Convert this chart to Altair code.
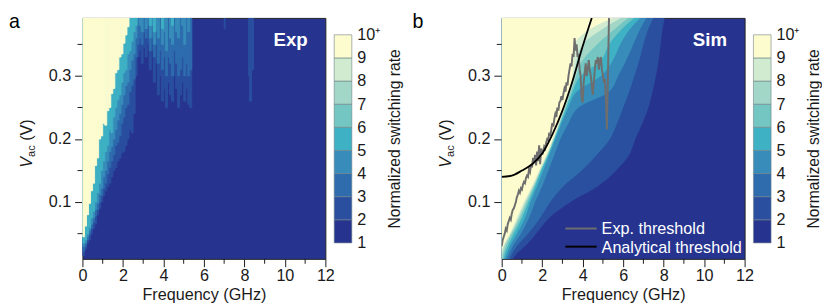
import altair as alt
import pandas as pd

# ---------------- colour bins (1-2, 2-3, ..., 9-10+) ----------------
bin_colors = ['#263490', '#2a4f9f', '#2e6cad', '#378cba', '#3fb1c4',
              '#74c6c2', '#a2d7c8', '#d0ebd0', '#fdfccf']
bin_lo = [1, 2, 3, 4, 5, 6, 7, 8, 9]
bin_hi = [2, 3, 4, 5, 6, 7, 8, 9, 10]
cbar_ticks = [1, 2, 3, 4, 5, 6, 7, 8, 9, 10]

x_major = [0, 2, 4, 6, 8, 10, 12]
x_minor = [1, 3, 5, 7, 9, 11]
y_major = [0.1, 0.2, 0.3]
y_minor = [0.05, 0.15, 0.25, 0.35]

# ---------------- (a) experiment: per-frequency-column onset voltages ----------------
exp_f0 = [round(0.1 * i, 1) for i in range(54)]   # column left edges (GHz), width 0.1
exp_v2 = [0.015, 0.025, 0.035, 0.04, 0.05, 0.058, 0.065, 0.08, 0.09, 0.1, 0.11, 0.118, 0.125,
          0.13, 0.14, 0.15, 0.155, 0.165, 0.17, 0.178, 0.18, 0.19, 0.2, 0.215, 0.21, 0.24,
          0.30, 0.33, 0.34, 0.32, 0.345, 0.33, 0.35, 0.31, 0.34, 0.29, 0.32, 0.27, 0.30, 0.26,
          0.28, 0.25, 0.29, 0.27, 0.26, 0.30, 0.28, 0.25, 0.27, 0.29, 0.26, 0.28, 0.255, 0.25]
exp_v3 = [0.022, 0.03, 0.04, 0.048, 0.058, 0.068, 0.078, 0.088, 0.1, 0.11, 0.122, 0.13, 0.145,
          0.155, 0.165, 0.175, 0.19, 0.195, 0.205, 0.225, 0.235, 0.25, 0.255, 0.275, 0.285, 0.295,
          0.33, 0.35, 0.36, 0.35, 0.37, 0.36, 0.38, 0.34, 0.36, 0.33, 0.35, 0.32, 0.34, 0.31,
          0.33, 0.30, 0.33, 0.32, 0.30, 0.34, 0.32, 0.30, 0.31, 0.33, 0.30, 0.32, 0.30, 0.31]
exp_v4 = [0.03, 0.035, 0.045, 0.055, 0.065, 0.075, 0.088, 0.098, 0.112, 0.122, 0.14, 0.15, 0.165,
          0.18, 0.188, 0.2, 0.215, 0.23, 0.24, 0.255, 0.27, 0.285, 0.29, 0.31, 0.325, 0.335,
          0.36, None, 0.38, 0.37, None, 0.375, None, 0.36, 0.38, 0.35, 0.37, 0.36, None, 0.35,
          0.37, 0.34, None, 0.36, 0.35, None, 0.37, 0.36, None, 0.38, 0.35, None, 0.37, None]
exp_v5 = [0.035, 0.04, 0.05, 0.06, 0.075, 0.085, 0.1, 0.115, 0.13, 0.15, 0.165, 0.18, 0.19,
          0.215, 0.21, 0.235, 0.25, 0.262, 0.27, 0.29, 0.305, 0.31, 0.335, 0.34, 0.355, 0.37,
          0.38, None, None, None, None, None, None, 0.38, None, 0.37, None, None, None, 0.375,
          None, None, None, None, 0.38, None, None, None, None, None, None, None, None, None]
exp_v9 = [0.045, 0.062, 0.08, 0.098, 0.118, 0.13, 0.158, 0.17, 0.2, 0.205, 0.225, 0.222, 0.245,
          0.25, 0.272, 0.28, 0.305, 0.31, 0.33, 0.335, 0.352, 0.365, 0.378]
extra_f0 = [7.0, 8.2, 8.25, 8.35]
extra_f1 = [7.05, 8.25, 8.35, 8.45]
extra_v2 = [0.375, 0.30, 0.26, 0.31]

# ---------------- (b) simulation: contour boundaries f_k(V) ----------------
sim_V = [0.01, 0.02, 0.03, 0.05, 0.075, 0.1, 0.125, 0.15, 0.175, 0.2, 0.225, 0.25,
         0.275, 0.3, 0.325, 0.35, 0.375, 0.392]
sim_f2 = [0.55, 0.8, 1.15, 1.7, 2.35, 3.4, 4.75, 5.65, 6.3, 6.6, 6.95, 7.25, 7.45, 7.62, 7.75, 7.85, 7.95, 8.05]
sim_f3 = [0.4, 0.55, 0.75, 1.3, 1.9, 2.4, 3.05, 3.95, 4.7, 5.35, 5.7, 6.0, 6.3, 6.55, 6.8, 7.0, 7.25, 7.5]
sim_f4 = [0.25, 0.4, 0.55, 0.95, 1.35, 1.65, 2.0, 2.3, 2.6, 2.9, 3.3, 3.8, 5.3, 5.75, 6.15, 6.5, 6.85, 7.15]
sim_f5 = [0.15, 0.28, 0.4, 0.75, 1.15, 1.42, 1.75, 2.05, 2.35, 2.65, 2.95, 3.3, 3.7, 4.9, 5.5, 5.85, 6.35, 6.85]
sim_f6 = [0.08, 0.18, 0.3, 0.6, 1.0, 1.32, 1.65, 1.95, 2.3, 2.6, 2.9, 3.2, 3.5, 3.9, 4.9, 5.3, 5.95, 6.55]
sim_f7 = [0.03, 0.1, 0.2, 0.5, 0.9, 1.24, 1.6, 1.92, 2.27, 2.58, 2.87, 3.15, 3.42, 3.68, 4.0, 4.7, 5.6, 6.25]
sim_f8 = [0.0, 0.03, 0.12, 0.45, 0.82, 1.17, 1.55, 1.9, 2.25, 2.56, 2.85, 3.1, 3.35, 3.58, 3.7, 4.0, 5.0, 5.9]
sim_f9 = [0.0, 0.0, 0.08, 0.4, 0.75, 1.1, 1.5, 1.85, 2.2, 2.52, 2.8, 3.05, 3.3, 3.5, 3.55, 3.62, 4.4, 5.5]

# thresholds
exp_thr_f = [round(0.05 * i, 2) for i in range(107)]
exp_thr_v = [0.03, 0.04, 0.045, 0.05, 0.058, 0.055, 0.065, 0.07, 0.075, 0.072,
             0.082, 0.088, 0.09, 0.095, 0.1, 0.108, 0.112, 0.118, 0.115, 0.122,
             0.12, 0.128, 0.132, 0.13, 0.138, 0.142, 0.14, 0.152, 0.148, 0.16,
             0.155, 0.17, 0.162, 0.175, 0.158, 0.18, 0.165, 0.19, 0.16, 0.185,
             0.175, 0.18, 0.188, 0.185, 0.195, 0.2, 0.198, 0.21, 0.205, 0.215,
             0.225, 0.22, 0.232, 0.24, 0.235, 0.25, 0.245, 0.258, 0.26, 0.268,
             0.262, 0.272, 0.28, 0.275, 0.29, 0.285, 0.3, 0.31, 0.32, 0.315,
             0.335, 0.33, 0.36, 0.34, 0.35, 0.33, 0.335, 0.31, 0.3, 0.265,
             0.258, 0.29, 0.305, 0.32, 0.3, 0.31, 0.325, 0.31, 0.3, 0.285,
             0.27, 0.29, 0.31, 0.325, 0.32, 0.33, 0.31, 0.325, 0.33, 0.31,
             0.3, 0.29, 0.295, 0.26, 0.215, 0.3, 0.392]
ana_f = [0.0, 0.5, 1.0, 1.5, 2.0, 2.5, 3.0, 3.5, 4.0, 4.45]
ana_v = [0.140, 0.142, 0.150, 0.160, 0.177, 0.207, 0.245, 0.292, 0.347, 0.392]

legend_labels = ['Exp. threshold', 'Analytical threshold']
legend_colors = ['#6e6e6e', '#000000']

# ---------------- layout constants ----------------
W, H = 248, 246
V_LO, V_HI = 0.01, 0.392
FONT = 'Liberation Sans'
INK = '#1a1a1a'
FS = 16.5

xs = alt.Scale(domain=[0, 12], nice=False, zero=False)
ys = alt.Scale(domain=[V_LO, V_HI], nice=False, zero=False)
one = pd.DataFrame({'k': [0]})

X_AXIS = alt.Axis(values=x_major, tickSize=8, tickColor=INK, labelFlush=False,
                  labelFontSize=FS, labelColor=INK, labelPadding=1,
                  title='Frequency (GHz)', titleFontSize=FS, titleFontWeight='normal',
                  titleColor=INK, titlePadding=3, domain=False, grid=False)
Y_AXIS = alt.Axis(values=y_major, format='.1f', tickSize=8, tickColor=INK,
                  labelFontSize=FS, labelColor=INK, labelPadding=4, title=None,
                  domain=False, grid=False)


def X(field):
    return alt.X(field, scale=xs, axis=X_AXIS)


def Y(field):
    return alt.Y(field, scale=ys, axis=Y_AXIS)


def frame_layers(panel_letter, tag):
    xmin = alt.Chart(pd.DataFrame({'f': x_minor})).mark_rule(color=INK, strokeWidth=1).encode(
        x=X('f:Q'), y=alt.value(H), y2=alt.value(H + 5))
    ymin = alt.Chart(pd.DataFrame({'v': y_minor})).mark_rule(color=INK, strokeWidth=1).encode(
        y=Y('v:Q'), x=alt.value(-5), x2=alt.value(0))
    t_v = alt.Chart(one).mark_text(angle=270, align='left', baseline='alphabetic', fontSize=FS,
                                   fontStyle='italic', color=INK).encode(
        x=alt.value(-52), y=alt.value(153), text=alt.value('V'))
    t_ac = alt.Chart(one).mark_text(angle=270, align='left', baseline='alphabetic', fontSize=11.5,
                                    color=INK).encode(
        x=alt.value(-48.5), y=alt.value(142), text=alt.value('ac'))
    t_unit = alt.Chart(one).mark_text(angle=270, align='left', baseline='alphabetic', fontSize=FS,
                                      color=INK).encode(
        x=alt.value(-52), y=alt.value(125.5), text=alt.value('(V)'))
    t_letter = alt.Chart(one).mark_text(align='left', baseline='alphabetic', fontSize=20,
                                        color='#000').encode(
        x=alt.value(-75 if panel_letter == 'a' else -91), y=alt.value(10),
        text=alt.value(panel_letter))
    t_tag = alt.Chart(one).mark_text(align='right', baseline='alphabetic', fontSize=19,
                                     fontWeight='bold', color='white').encode(
        x=alt.value(W - 18), y=alt.value(29), text=alt.value(tag))
    return [xmin, ymin, t_v, t_ac, t_unit, t_letter, t_tag]


def colorbar():
    cb = pd.DataFrame({'lo': bin_lo, 'hi': bin_hi, 'c': bin_colors})
    return alt.Chart(cb).mark_rect(stroke='#6f8088', strokeWidth=0.6).encode(
        x=alt.value(W + 9), x2=alt.value(W + 27),
        y=alt.Y('lo:Q', scale=alt.Scale(domain=[0.31, 10.73], nice=False, zero=False),
                axis=alt.Axis(orient='right', offset=27, values=cbar_ticks,
                              labelExpr="datum.value == 10 ? '10\u207a' : datum.label",
                              ticks=False, tickSize=0, domain=False, grid=False,
                              labelPadding=5, labelFontSize=FS, labelColor=INK,
                              title='Normalized switching rate', titleFontSize=16,
                              titleFontWeight='normal', titleColor=INK, titleAngle=270,
                              titleBaseline='top', titlePadding=6)),
        y2='hi:Q',
        color=alt.Color('c:N', scale=None))


# ---------------- panel a ----------------
rows = []
for level, arr in [(2, exp_v2), (3, exp_v3), (4, exp_v4), (5, exp_v5), (9, exp_v9)]:
    for f0, v in zip(exp_f0, arr):
        if v is not None:
            rows.append({'f0': f0, 'f1': round(f0 + 0.1, 2), 'v': v, 'top': V_HI,
                         'c': bin_colors[level - 1]})
for f0, f1, v in zip(extra_f0, extra_f1, extra_v2):
    rows.append({'f0': f0, 'f1': f1, 'v': v, 'top': V_HI, 'c': bin_colors[1]})
exp_df = pd.DataFrame(rows)

exp_map = alt.Chart(exp_df).mark_rect(clip=True, strokeWidth=0.9).encode(
    x=X('f0:Q'), x2='f1:Q',
    y=Y('v:Q'), y2='top:Q',
    color=alt.Color('c:N', scale=None),
    stroke=alt.Stroke('c:N', scale=None))

panel_a = alt.layer(alt.layer(exp_map, *frame_layers('a', 'Exp')), colorbar()).resolve_scale(
    y='independent').properties(width=W, height=H)

# ---------------- panel b ----------------
sim_layers = []
for level, arr in zip(range(2, 10), [sim_f2, sim_f3, sim_f4, sim_f5, sim_f6, sim_f7, sim_f8, sim_f9]):
    d = pd.DataFrame({'V': sim_V, 'f': arr, 'z': [0.0] * len(sim_V)})
    sim_layers.append(
        alt.Chart(d).mark_area(orient='horizontal', interpolate='monotone',
                               color=bin_colors[level - 1], clip=True).encode(
            y=Y('V:Q'), x=X('f:Q'), x2='z:Q'))

thr_df = pd.DataFrame({'f': exp_thr_f, 'v': exp_thr_v, 'i': list(range(len(exp_thr_f)))})
thr_line = alt.Chart(thr_df).mark_line(color=legend_colors[0], strokeWidth=2, clip=True).encode(
    x=X('f:Q'), y=Y('v:Q'), order='i:Q')
ana_df = pd.DataFrame({'f': ana_f, 'v': ana_v})
ana_line = alt.Chart(ana_df).mark_line(color=legend_colors[1], strokeWidth=1.8,
                                       interpolate='monotone', clip=True).encode(
    x=X('f:Q'), y=Y('v:Q'))

leg_layers = []
for k, (lab, col) in enumerate(zip(legend_labels, legend_colors)):
    yy = 215 + 18.5 * k
    leg_layers.append(alt.Chart(one).mark_rule(color=col, strokeWidth=2).encode(
        x=alt.value(65), x2=alt.value(97), y=alt.value(yy)))
    leg_layers.append(alt.Chart(one).mark_text(align='left', baseline='middle', fontSize=FS,
                                               color='white').encode(
        x=alt.value(102), y=alt.value(yy + 1), text=alt.value(lab)))

panel_b = alt.layer(alt.layer(*sim_layers, thr_line, ana_line, *leg_layers,
                              *frame_layers('b', 'Sim')), colorbar()).resolve_scale(
    y='independent').properties(width=W, height=H)

chart = alt.hconcat(panel_a, panel_b, spacing=9).properties(padding=0).configure_view(
    fill=bin_colors[0], stroke='#222222', strokeWidth=1).configure_axis(
    labelFont=FONT, titleFont=FONT, labelFontSize=FS, titleFontSize=FS,
    titleFontWeight='normal', labelColor=INK, titleColor=INK).configure_text(font=FONT)

chart.save('out.html', embed_options={'renderer': 'svg', 'actions': False})
